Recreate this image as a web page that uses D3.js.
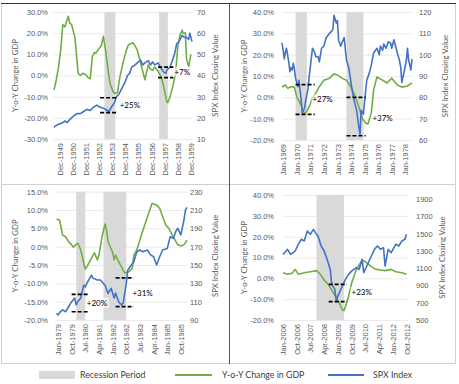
<!DOCTYPE html>
<html>
<head>
<meta charset="UTF-8">
<title>Recessions, GDP and the SPX</title>
<script src="https://d3js.org/d3.v7.min.js"></script>
<style>
  body { margin: 0; background: #fff; }
  svg { display: block; font-family: Lato, "Open Sans", sans-serif; }
  .tick text { fill: #595959; font-size: 7.5px; }
</style>
</head>
<body>
<div id="chart"></div>
<script>
// ---- data: [month, value] pairs ----

// 1949 - 1959
const gdp1 = [["1949-07",-6.8],["1949-09",-2],["1949-11",4],["1950-01",12],["1950-03",24],["1950-05",23],["1950-06",25],
  ["1950-08",28],["1950-09",25],["1950-11",24],["1951-02",18],["1951-05",1],["1951-07",0],["1951-09",1],["1951-12",0.5],
  ["1952-02",-1],["1952-04",-1.5],["1952-06",9],["1952-08",11],["1952-09",10.5],["1952-11",12],["1953-02",14],["1953-04",18.5],
  ["1953-06",12],["1953-08",4],["1953-10",-3.5],["1954-01",-7.8],["1954-03",-8.5],["1954-05",-8],["1954-07",-1],["1954-10",6],
  ["1955-01",12],["1955-03",14.5],["1955-07",15.5],["1955-09",14],["1955-11",12],["1956-01",8],["1956-03",4],["1956-06",-2],
  ["1956-09",5],["1956-11",3],["1957-01",2.5],["1957-03",4],["1957-06",2],["1957-09",-1],["1957-11",-5],["1958-02",-12.5],
  ["1958-03",-12.8],["1958-05",-10],["1958-08",-4],["1958-10",1],["1958-12",13.5],["1959-02",19],["1959-04",21.5],
  ["1959-05",20],["1959-07",20],["1959-08",8],["1959-10",4],["1959-12",10]];
const spx1 = [["1949-07",15.5],["1949-08",16.1],["1949-11",17],["1950-02",17.5],["1950-05",18.5],["1950-07",17.8],
  ["1950-10",19.5],["1951-01",21],["1951-04",22],["1951-07",22],["1951-10",23],["1952-01",24],["1952-04",23.5],["1952-07",25],
  ["1952-10",26],["1953-01",25],["1953-04",24.5],["1953-07",23.7],["1953-09",23],["1953-12",25.6],["1954-02",27],["1954-04",30],
  ["1954-06",31],["1954-09",34],["1954-12",37],["1955-02",40],["1955-04",41],["1955-06",44],["1955-09",45],["1955-11",46],
  ["1956-02",47.3],["1956-04",45],["1956-06",46],["1956-09",47],["1956-11",45],["1957-01",46.4],["1957-03",45],["1957-06",46],
  ["1957-08",44],["1957-11",41.7],["1958-01",41],["1958-02",42.6],["1958-05",44],["1958-07",47],["1958-09",50],["1958-11",55],
  ["1959-01",56],["1959-04",59],["1959-06",58],["1959-08",58],["1959-10",57],["1959-11",60],["1960-01",56]];
const rec1 = [["1953-05","1954-03"],["1957-07","1958-03"]];
const marks1 = [{from:"1953-01",to:"1954-05",hi:29.5,lo:22.5,label:"+25%",at:"1954-07",v:26},
  {from:"1957-06",to:"1958-08",hi:44,lo:39,label:"+7%",at:"1958-09",v:41.7}];
const ticks1 = ["Dec-1949","Dec-1950","Dec-1951","Dec-1952","Dec-1953","Dec-1954","Dec-1955","Dec-1956","Dec-1957","Dec-1958","Dec-1959"];

// 1969 - 1978
const gdp2 = [["1968-12",4.8],["1969-03",5.8],["1969-05",4.3],["1969-08",5],["1969-11",4.8],["1970-01",0.2],["1970-05",-3.6],
  ["1970-07",-6.9],["1970-09",-7.3],["1970-12",-4.5],["1971-03",-0.3],["1971-06",2],["1971-09",5],["1972-01",8],["1972-06",9],
  ["1972-10",11],["1973-01",10.5],["1973-05",9],["1973-09",8],["1974-01",4.8],["1974-05",0.2],["1974-08",-4.5],["1974-11",-10],
  ["1975-02",-12],["1975-04",-12.5],["1975-07",-7.5],["1975-09",3.4],["1975-12",9.5],["1976-05",8],["1976-09",6.7],["1977-01",9],
  ["1977-06",5.8],["1977-10",4.8],["1978-03",5.3],["1978-07",6.8]];
const spx2 = [["1968-12",105.5],["1969-01",102],["1969-02",98],["1969-03",101],["1969-04",103],["1969-06",96.6],["1969-07",92],
  ["1969-08",94],["1969-09",92.8],["1969-10",96],["1969-11",93],["1969-12",89],["1970-02",85],["1970-03",88],["1970-05",78.7],
  ["1970-06",72.6],["1970-08",75],["1970-09",78.7],["1970-11",84],["1970-12",89.5],["1971-03",103],["1971-05",101],["1971-06",99],
  ["1971-08",99],["1971-09",96.6],["1971-11",103],["1972-01",104],["1972-03",107.8],["1972-06",110],["1972-08",111],["1972-09",112],
  ["1972-10",118.5],["1972-12",114.8],["1973-01",116],["1973-02",106.8],["1973-04",104],["1973-05",105.5],["1973-07",108],
  ["1973-09",97.5],["1973-11",94],["1974-02",83.4],["1974-04",78],["1974-06",74],["1974-08",66],["1974-09",62.5],["1974-10",74],
  ["1974-12",72],["1975-01",78],["1975-03",88],["1975-05",91],["1975-07",95],["1975-09",100.8],["1975-12",103],["1976-02",100],
  ["1976-03",104],["1976-05",102],["1976-06",105],["1976-08",103],["1976-10",106],["1976-12",105.5],["1977-01",103],["1977-03",107],
  ["1977-05",103],["1977-06",100.8],["1977-08",97],["1977-09",94],["1977-10",87],["1977-12",92],["1978-02",97.5],["1978-03",103],
  ["1978-04",97.5],["1978-06",92.8],["1978-07",98]];
const rec2 = [["1969-12","1970-10"],["1973-09","1974-12"]];
const marks2 = [{from:"1969-12",to:"1971-05",hi:86,lo:72,label:"+27%",at:"1971-03",v:79},
  {from:"1973-09",to:"1975-02",hi:80,lo:62,label:"+37%",at:"1975-08",v:70.3}];
const ticks2 = ["Jan-1969","Jan-1970","Jan-1971","Jan-1972","Jan-1973","Jan-1974","Jan-1975","Jan-1976","Jan-1977","Jan-1978"];

// 1979 - 1985
const gdp3 = [["1978-12",7.5],["1979-02",7.3],["1979-04",3.2],["1979-06",2.7],["1979-08",1.4],["1979-10",0.5],["1979-11",-0.1],
  ["1980-02",1],["1980-04",-0.9],["1980-06",-4.5],["1980-07",-6.1],["1980-08",-5.5],["1980-11",-3.1],["1981-01",-1.7],
  ["1981-03",-3.6],["1981-04",-2.3],["1981-06",2.7],["1981-08",6.2],["1981-09",4.5],["1981-10",1.4],["1982-01",-1.6],
  ["1982-02",-3.6],["1982-03",-2.3],["1982-05",-4.1],["1982-08",-6.4],["1982-09",-7.2],["1982-12",-6.8],["1983-02",-5.8],
  ["1983-03",-2.3],["1983-05",-0.9],["1983-08",3.2],["1983-12",8.2],["1984-03",11.8],["1984-06",11.4],["1984-08",10.5],
  ["1984-12",5.9],["1985-02",5],["1985-05",2.7],["1985-08",0.5],["1985-10",0.2],["1985-12",0.5],["1986-02",1.8]];
const spx3 = [["1978-12",97.3],["1979-01",95.5],["1979-02",98],["1979-04",101],["1979-06",99],["1979-08",104.5],["1979-10",110],
  ["1979-12",114],["1980-01",106.4],["1980-02",110],["1980-04",114],["1980-06",128],["1980-07",126],["1980-08",130],["1980-11",139],
  ["1980-12",135.7],["1981-03",133.6],["1981-05",133.6],["1981-08",128],["1981-10",119],["1981-12",124.6],["1982-02",114],
  ["1982-03",119.5],["1982-05",110],["1982-07",106.4],["1982-08",108.5],["1982-10",130],["1982-11",144.6],["1983-03",153.6],
  ["1983-05",164.5],["1983-07",166.4],["1983-09",164.5],["1983-12",166.4],["1984-02",161],["1984-04",159],["1984-06",150],
  ["1984-08",159],["1984-10",166.4],["1985-01",168],["1985-03",181],["1985-05",179],["1985-07",188],["1985-08",190],
  ["1985-10",182.8],["1985-12",199],["1986-01",210],["1986-02",213]];
const rec3 = [["1980-01","1980-07"],["1981-07","1982-10"]];
const marks3 = [{from:"1979-10",to:"1980-09",hi:118,lo:99,label:"+20%",at:"1980-08",v:108.5},
  {from:"1982-03",to:"1983-03",hi:136,lo:104.5,label:"+31%",at:"1983-02",v:119.5}];
const ticks3 = ["Jan-1979","Oct-1979","Jul-1980","Apr-1981","Jan-1982","Oct-1982","Jul-1983","Apr-1984","Jan-1985","Oct-1985"];

// 2006 - 2012
const gdp4 = [["2006-01",2.7],["2006-04",2],["2006-07",2.4],["2006-09",4.3],["2006-11",2],["2007-03",2.7],["2007-07",3.2],
  ["2007-11",3.7],["2008-01",2.4],["2008-04",-0.8],["2008-07",-3.2],["2008-11",-8],["2009-02",-12],["2009-04",-15.2],
  ["2009-05",-15.5],["2009-06",-13.6],["2009-08",-8.8],["2009-10",-2.4],["2010-01",4],["2010-03",6.4],["2010-05",8.8],
  ["2010-07",8],["2010-11",5.6],["2011-02",4.3],["2011-05",4],["2011-08",3.7],["2011-12",4.3],["2012-03",3.2],["2012-07",2.7],
  ["2012-10",2]];
const spx4 = [["2006-01",1261],["2006-02",1281],["2006-04",1320],["2006-06",1261],["2006-09",1300],["2006-11",1378],
  ["2007-01",1436],["2007-03",1417],["2007-05",1533],["2007-07",1494],["2007-09",1552],["2007-11",1494],["2007-12",1474],
  ["2008-02",1358],["2008-04",1300],["2008-06",1203],["2008-08",1087],["2008-09",913],["2008-11",855],["2008-12",719],
  ["2009-01",777],["2009-03",855],["2009-06",971],["2009-08",1029],["2009-10",1067],["2010-01",1107],["2010-03",1087],
  ["2010-05",1203],["2010-06",1049],["2010-08",1126],["2010-11",1242],["2011-01",1320],["2011-03",1358],["2011-05",1320],
  ["2011-07",1339],["2011-08",1126],["2011-10",1320],["2011-12",1281],["2012-03",1378],["2012-05",1358],["2012-07",1416],
  ["2012-09",1436],["2012-10",1494]];
const rec4 = [["2007-11","2009-05"]];
const marks4 = [{from:"2008-07",to:"2009-07",hi:913,lo:712,label:"+23%",at:"2009-10",v:823}];
const ticks4 = ["Jan-2006","Oct-2006","Jul-2007","Apr-2008","Jan-2009","Oct-2009","Jul-2010","Apr-2011","Jan-2012","Oct-2012"];

// axis ranges and tick values
const gdpTicks1 = [-30, -20, -10, 0, 10, 20, 30];
const spxTicks1 = [10, 20, 30, 40, 50, 60, 70];
const gdpTicks2 = [-20, -10, 0, 10, 20, 30, 40];
const spxTicks2 = [60, 70, 80, 90, 100, 110, 120];
const gdpTicks3 = [-20, -15, -10, -5, 0, 5, 10, 15];
const spxTicks3 = [90, 110, 130, 150, 170, 190, 210, 230];
const gdpTicks4 = [-20, -10, 0, 10, 20, 30, 40];
const spxTicks4 = [500, 700, 900, 1100, 1300, 1500, 1700, 1900];

const legendItems = ["Recession Period", "Y-o-Y Change in GDP", "SPX Index"];

const GREEN = "#70ad47", BLUE = "#4472c4", GREY = "#d9d9d9";

const parseM = d3.timeParse("%Y-%m");
const parseTick = d3.timeParse("%b-%Y");
const fmtTick = d3.timeFormat("%b-%Y");

const svg = d3.select("#chart").append("svg").attr("width", 459).attr("height", 384);

// panel frames
svg.append("rect").attr("x", 1.5).attr("y", 3.5).attr("width", 454).attr("height", 360)
  .attr("fill", "none").attr("stroke", "#d0d0d0");
svg.append("line").attr("x1", 1).attr("x2", 456).attr("y1", 184.5).attr("y2", 184.5).attr("stroke", "#d0d0d0");
svg.append("line").attr("x1", 1).attr("x2", 456).attr("y1", 3.5).attr("y2", 3.5).attr("stroke", "#333");
svg.append("line").attr("x1", 229.5).attr("x2", 229.5).attr("y1", 3).attr("y2", 364).attr("stroke", "#555");

function drawPanel(p) {
  const b = p.box;
  const x = d3.scaleTime().domain(p.span.map(parseM)).range([b.x0, b.x1]);
  const yL = d3.scaleLinear().domain(d3.extent(p.gdpTicks)).range([b.yBot, b.yTop]);
  const yR = d3.scaleLinear().domain(p.spxDomain || d3.extent(p.spxTicks)).range([b.yBot, b.yTop]);
  const g = svg.append("g");

  // horizontal gridlines
  g.append("g").attr("transform", `translate(${b.x0},0)`)
    .call(d3.axisLeft(yL).tickValues(p.gdpTicks).tickSize(-(b.x1 - b.x0)).tickFormat(""))
    .call(a => a.select(".domain").remove())
    .selectAll("line").attr("stroke", "#ebebeb");

  // recession bands
  g.append("g").selectAll("rect").data(p.rec).join("rect")
    .attr("x", d => x(parseM(d[0])))
    .attr("width", d => x(parseM(d[1])) - x(parseM(d[0])))
    .attr("y", b.yTop).attr("height", b.yBot - b.yTop)
    .attr("fill", GREY);

  // left axis
  g.append("g").attr("transform", `translate(${b.x0},0)`)
    .call(d3.axisLeft(yL).tickValues(p.gdpTicks).tickSize(0).tickPadding(b.lPad)
      .tickFormat(d => d.toFixed(1) + "%"))
    .call(a => a.select(".domain").remove());

  // right axis (plain integers, no thousands separator)
  g.append("g").attr("transform", `translate(${b.x1},0)`)
    .call(d3.axisRight(yR).tickValues(p.spxTicks).tickSize(0).tickPadding(b.rPad).tickFormat(d3.format("d")))
    .call(a => a.select(".domain").remove());

  // bottom axis, rotated labels
  g.append("g").attr("transform", `translate(0,${b.yBot})`)
    .call(d3.axisBottom(x).tickValues(p.xTicks.map(parseTick)).tickFormat(fmtTick).tickSize(0))
    .call(a => a.select(".domain").remove())
    .selectAll("text")
      .attr("transform", "rotate(-90)")
      .attr("x", -4).attr("y", 0).attr("dy", ".35em")
      .style("text-anchor", "end");

  // axis titles
  const midY = (b.yTop + b.yBot) / 2;
  g.append("text").attr("transform", `translate(${b.lTitleX},${midY}) rotate(-90)`)
    .attr("text-anchor", "middle").attr("dy", ".35em")
    .attr("font-size", 7.8).attr("fill", "#595959").text("Y-o-Y Change in GDP");
  g.append("text").attr("transform", `translate(${b.rTitleX},${midY}) rotate(-90)`)
    .attr("text-anchor", "middle").attr("dy", ".35em")
    .attr("font-size", 7.8).attr("fill", "#595959").text("SPX Index Closing Value");

  // series
  const lineL = d3.line().x(d => x(parseM(d[0]))).y(d => yL(d[1]));
  const lineR = d3.line().x(d => x(parseM(d[0]))).y(d => yR(d[1]));
  g.append("path").attr("d", lineL(p.gdp)).attr("fill", "none")
    .attr("stroke", GREEN).attr("stroke-width", 1.6).attr("stroke-linejoin", "round");
  g.append("path").attr("d", lineR(p.spx)).attr("fill", "none")
    .attr("stroke", BLUE).attr("stroke-width", 1.6).attr("stroke-linejoin", "round");

  // trough / recovery markers
  p.marks.forEach(m => {
    [m.hi, m.lo].forEach(v => {
      g.append("line")
        .attr("x1", x(parseM(m.from))).attr("x2", x(parseM(m.to)))
        .attr("y1", yR(v)).attr("y2", yR(v))
        .attr("stroke", "#000").attr("stroke-width", 1.7).attr("stroke-dasharray", "4,2");
    });
    const t = g.append("text")
      .attr("x", x(parseM(m.at))).attr("y", yR(m.v)).attr("dy", ".35em")
      .attr("font-size", 8).attr("fill", "#000").text(m.label);
    const bb = t.node().getBBox();
    g.insert("rect", () => t.node())
      .attr("x", bb.x - 1).attr("y", bb.y).attr("width", bb.width + 2).attr("height", bb.height)
      .attr("fill", "#fff").attr("opacity", 0.6);
  });
}

drawPanel({ span: ["1949-06", "1960-01"], gdp: gdp1, spx: spx1, rec: rec1, marks: marks1, xTicks: ticks1,
  gdpTicks: gdpTicks1, spxTicks: spxTicks1,
  box: { x0: 53, x1: 192, yTop: 12, yBot: 139, lPad: 5, rPad: 5, lTitleX: 15, rTitleX: 215 } });
drawPanel({ span: ["1968-12", "1978-07"], gdp: gdp2, spx: spx2, rec: rec2, marks: marks2, xTicks: ticks2,
  gdpTicks: gdpTicks2, spxTicks: spxTicks2,
  box: { x0: 282, x1: 412, yTop: 12, yBot: 140, lPad: 8, rPad: 7, lTitleX: 244, rTitleX: 445 } });
drawPanel({ span: ["1978-11", "1986-02"], gdp: gdp3, spx: spx3, rec: rec3, marks: marks3, xTicks: ticks3,
  gdpTicks: gdpTicks3, spxTicks: spxTicks3,
  box: { x0: 55, x1: 187, yTop: 191.7, yBot: 320, lPad: 7, rPad: 3, lTitleX: 15, rTitleX: 215 } });
drawPanel({ span: ["2006-01", "2012-11"], gdp: gdp4, spx: spx4, rec: rec4, marks: marks4, xTicks: ticks4,
  gdpTicks: gdpTicks4, spxTicks: spxTicks4, spxDomain: [500, 1950],
  box: { x0: 283, x1: 408, yTop: 195, yBot: 320, lPad: 9, rPad: 8, lTitleX: 244, rTitleX: 442 } });

// legend
const leg = svg.append("g").attr("font-size", 8.8).attr("fill", "#404040");
leg.append("rect").attr("x", 39).attr("y", 371).attr("width", 36).attr("height", 8).attr("fill", GREY);
leg.append("line").attr("x1", 175).attr("x2", 212).attr("y1", 375).attr("y2", 375)
  .attr("stroke", GREEN).attr("stroke-width", 2.2);
leg.append("line").attr("x1", 328).attr("x2", 364).attr("y1", 375).attr("y2", 375)
  .attr("stroke", BLUE).attr("stroke-width", 2.2);
leg.selectAll("text").data(legendItems).join("text")
  .attr("x", (d, i) => [80, 222, 373][i]).attr("y", 375).attr("dy", ".35em")
  .text(d => d);
</script>
</body>
</html>
